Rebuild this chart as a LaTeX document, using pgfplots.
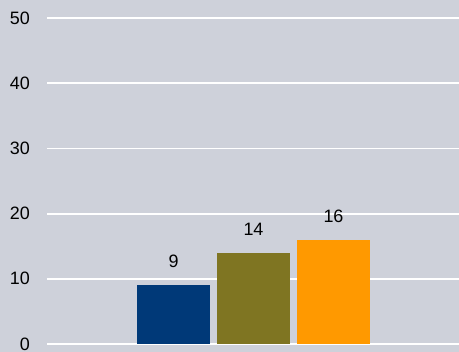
\documentclass[border=0pt]{standalone}
\usepackage{fontspec}
\setmainfont{Liberation Sans}
\usepackage{pgfplots}
\pgfplotsset{compat=1.18}
\definecolor{bg}{RGB}{206,209,218}
\definecolor{cblue}{RGB}{0,57,120}
\definecolor{colive}{RGB}{127,117,34}
\definecolor{corange}{RGB}{255,153,0}
\begin{document}
\begin{tikzpicture}[font=\fontsize{18}{21}\selectfont]
\fill[bg] (-47bp,-8bp) rectangle (412bp,344bp);
\useasboundingbox (-47bp,-8bp) rectangle (412bp,344bp);
\begin{axis}[
  at={(0,0)}, anchor=south west,
  scale only axis, width=412bp, height=326bp,
  xmin=-0.58125, xmax=4.56875,
  ymin=0, ymax=50,
  ytick={0,10,20,30,40,50},
  xtick=\empty,
  axis line style={draw=none},
  major tick length=0pt,
  ymajorgrids, grid style={white, line width=1.8bp},
  /pgf/number format/assume math mode=true,
  ticklabel style={font=\fontsize{18}{21}\selectfont},
  yticklabel style={anchor=east, inner sep=0pt, xshift=-17bp},
  ybar, bar width=0.9125, bar shift=0pt,
  nodes near coords,
  nodes near coords style={anchor=south, inner sep=0pt, yshift=17bp, text=black, font=\fontsize{18}{21}\selectfont},
  clip=false,
]
\addplot[fill=cblue, draw=none] coordinates {(1,9)};
\addplot[fill=colive, draw=none] coordinates {(2,14)};
\addplot[fill=corange, draw=none] coordinates {(3,16)};
\end{axis}
\end{tikzpicture}
\end{document}
